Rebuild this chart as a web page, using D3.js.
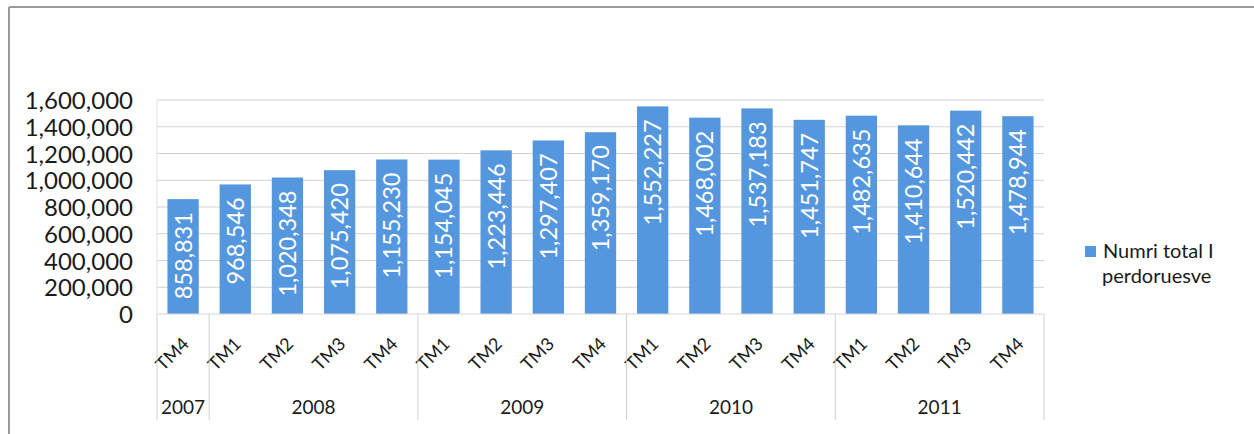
<!DOCTYPE html>
<html><head><meta charset="utf-8">
<script src="https://cdn.jsdelivr.net/npm/d3@7"></script>
<style>body{margin:0;background:#fff}svg{display:block}text{font-family:Lato,"Open Sans",sans-serif}</style>
</head><body>
<svg id="c" width="1254" height="434"></svg>
<script>
const quarters = ["TM4","TM1","TM2","TM3","TM4","TM1","TM2","TM3","TM4","TM1","TM2","TM3","TM4","TM1","TM2","TM3","TM4"];
const years = ["2007","2008","2008","2008","2008","2009","2009","2009","2009","2010","2010","2010","2010","2011","2011","2011","2011"];
const values = [858831,968546,1020348,1075420,1155230,1154045,1223446,1297407,1359170,1552227,1468002,1537183,1451747,1482635,1410644,1520442,1478944];
const yTicks = [0,200000,400000,600000,800000,1000000,1200000,1400000,1600000];
const seriesName = ["Numri total I","perdoruesve"];

const svg = d3.select("#c");
const L = 157, R = 1044, T = 100, B = 314;
const ids = d3.range(values.length);
const x = d3.scaleBand().domain(ids).range([L, R]).paddingInner(0.4).paddingOuter(0.2);
const y = d3.scaleLinear().domain([0, 1600000]).range([B, T]);
const fmt = d3.format(",");
const ink = "#1a1a1a", blue = "#5597de";

// frame
svg.append("line").attr("x1",9).attr("x2",1254).attr("y1",7).attr("y2",7).attr("stroke","#9a9a9a").attr("stroke-width",2);
svg.append("line").attr("x1",9).attr("x2",9).attr("y1",7).attr("y2",434).attr("stroke","#9a9a9a").attr("stroke-width",2);

// gridlines
svg.append("g").selectAll("line").data(yTicks.slice(1)).join("line")
  .attr("x1",L).attr("x2",R).attr("y1",d=>y(d)).attr("y2",d=>y(d))
  .attr("stroke","#d2d2d2").attr("stroke-width",1);
svg.append("line").attr("x1",L).attr("x2",L).attr("y1",T).attr("y2",B).attr("stroke","#e2e2e2");

// y axis labels
const yAxis = d3.axisLeft(y).tickValues(yTicks).tickFormat(fmt).tickSize(0).tickPadding(0);
const gy = svg.append("g").attr("transform","translate(133,0)").call(yAxis);
gy.select(".domain").remove();
gy.selectAll("text").attr("font-size",24).attr("fill",ink).attr("dy","0.36em")
  .style("font-family","Lato,sans-serif");

// bars
svg.append("g").selectAll("rect").data(ids).join("rect")
  .attr("x",i=>x(i)).attr("width",x.bandwidth())
  .attr("y",i=>y(values[i])).attr("height",i=>B-y(values[i]))
  .attr("fill",blue);

// value labels
svg.append("g").selectAll("text").data(ids).join("text")
  .attr("transform",i=>`translate(${x(i)+x.bandwidth()/2+8.5},${y(values[i])+13}) rotate(-90)`)
  .attr("text-anchor","end").attr("font-size",23.5).attr("fill","#fff")
  .text(i=>fmt(values[i]));

// x axis line
svg.append("line").attr("x1",L).attr("x2",R).attr("y1",B).attr("y2",B).attr("stroke","#d6d6d6");

// quarter labels
svg.append("g").selectAll("text").data(ids).join("text")
  .attr("transform",i=>`translate(${x(i)+x.bandwidth()/2+7},345) rotate(-45)`)
  .attr("text-anchor","end").attr("font-size",18).attr("fill",ink)
  .text(i=>quarters[i]);

// year groups
const groups = [];
years.forEach((yr,i)=>{
  if(!groups.length || groups[groups.length-1].yr!==yr) groups.push({yr,start:i,end:i});
  else groups[groups.length-1].end=i;
});
const edge = i => L + i * (R-L)/values.length;
const seps = [0, ...groups.map(g=>g.end+1)];
svg.append("g").selectAll("line").data(seps).join("line")
  .attr("x1",d=>edge(d)).attr("x2",d=>edge(d)).attr("y1",B).attr("y2",420)
  .attr("stroke","#d0d0d0");
svg.append("g").selectAll("text").data(groups).join("text")
  .attr("x",g=>(edge(g.start)+edge(g.end+1))/2).attr("y",414)
  .attr("text-anchor","middle").attr("font-size",19).attr("fill",ink)
  .text(g=>g.yr);

// legend
svg.append("rect").attr("x",1085).attr("y",246).attr("width",11).attr("height",11).attr("fill",blue);
svg.append("g").selectAll("text").data(seriesName).join("text")
  .attr("x",(d,i)=>i?1102:1103).attr("y",(d,i)=>258+i*25)
  .attr("font-size",20).attr("fill",ink).text(d=>d);
</script>
</body></html>
